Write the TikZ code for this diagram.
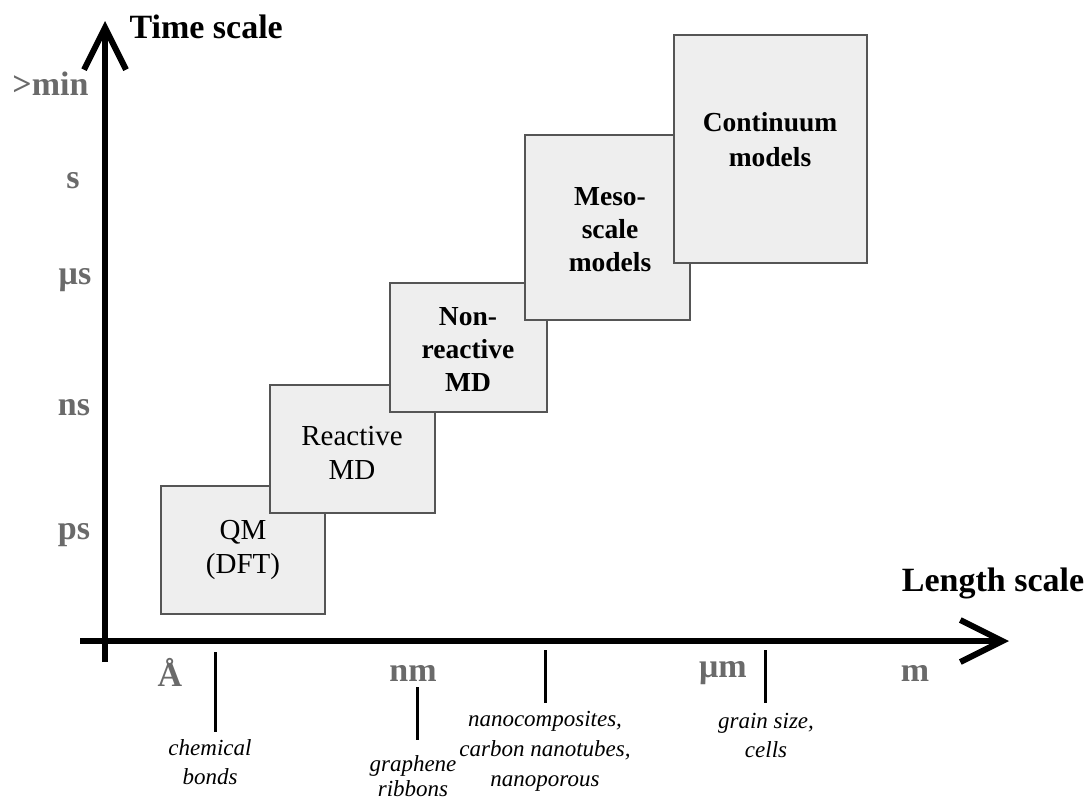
\documentclass[tikz,border=0pt]{standalone}
\usepackage{fontspec}
\setmainfont{Liberation Serif}
\usetikzlibrary{arrows.meta}
\definecolor{boxfill}{HTML}{EEEEEE}
\definecolor{boxline}{HTML}{555555}
\definecolor{ticklab}{HTML}{6A6A6A}
\begin{document}
\begin{tikzpicture}[x=1pt,y=-1pt,
  axis/.style={line width=6pt,-{Straight Barb[length=42pt,width=42pt]}},
  model/.style={draw=boxline,fill=boxfill,line width=1.2pt},
  boxtext/.style={align=center,font=\fontsize{29}{34}\selectfont},
  boldtext/.style={align=center,font=\fontsize{27.5}{33}\selectfont\bfseries},
  ttick/.style={font=\fontsize{34}{38}\selectfont\bfseries,text=ticklab},
  axlabel/.style={font=\fontsize{34}{38}\selectfont\bfseries},
  example/.style={align=center,font=\fontsize{23}{29}\selectfont\itshape},
  mark line/.style={line width=3pt}]
\useasboundingbox (0,0) rectangle (1091,801);
% boxes
\draw[model] (161,486) rectangle (325,614);
\node[boxtext] (qm) at (243,550) {QM\\(DFT)};
\draw[model] (270,385) rectangle (435,513);
\node[boxtext] (rmd) at (352,453) {Reactive\\MD};
\draw[model] (390,283) rectangle (547,412);
\node[boldtext] (nrmd) at (468,350) {Non-\\reactive\\MD};
\draw[model] (525,135) rectangle (690,320);
\node[boldtext] (meso) at (610,230) {Meso-\\scale\\models};
\draw[model] (674,35) rectangle (867,263);
\node[boldtext,font=\fontsize{27.5}{35}\selectfont\bfseries] (cont) at (770,140) {Continuum\\models};
% axes
\coordinate (vbot) at (105,662);
\coordinate (vtop) at (105,21);
\coordinate (hleft) at (80,641);
\coordinate (hright) at (1009,641);
\draw[axis] (vbot) -- (vtop);
\draw[axis] (hleft) -- (hright);
\node[axlabel,anchor=west] (tlab) at (126,27) {Time scale};
\node[axlabel] (llab) at (993,583) {Length scale};
% time ticks
\node[ttick,anchor=east] (tmin) at (92,84) {>min};
\node[ttick] (ts) at (73,181) {s};
\node[ttick] (tus) at (75,280) {\char"03BC s};
\node[ttick] (tns) at (74,408) {ns};
\node[ttick] (tps) at (74,535) {ps};
% length ticks
\node[ttick] (la) at (170,672) {Å};
\node[ttick] (lnm) at (413,673) {nm};
\node[ttick] (lum) at (723,673) {\char"03BC m};
\node[ttick] (lm) at (915,673) {m};
% example markers
\coordinate (c1a) at (215,652); \coordinate (c1b) at (215,732);
\coordinate (c2a) at (417,687); \coordinate (c2b) at (417,740);
\coordinate (c3a) at (545,650); \coordinate (c3b) at (545,703);
\coordinate (c4a) at (765,650); \coordinate (c4b) at (765,703);
\draw[mark line] (c1a) -- (c1b);
\draw[mark line] (c2a) -- (c2b);
\draw[mark line] (c3a) -- (c3b);
\draw[mark line] (c4a) -- (c4b);
\node[example] (e1) at (210,762) {chemical\\bonds};
\node[example,font=\fontsize{23}{25}\selectfont\itshape,inner sep=1pt] (e2) at (413,776) {graphene\\ribbons};
\node[example,font=\fontsize{23}{30}\selectfont\itshape] (e3) at (545,751) {nanocomposites,\\carbon nanotubes,\\nanoporous};
\node[example] (e4) at (766,735) {grain size,\\cells};
\end{tikzpicture}
\end{document}
